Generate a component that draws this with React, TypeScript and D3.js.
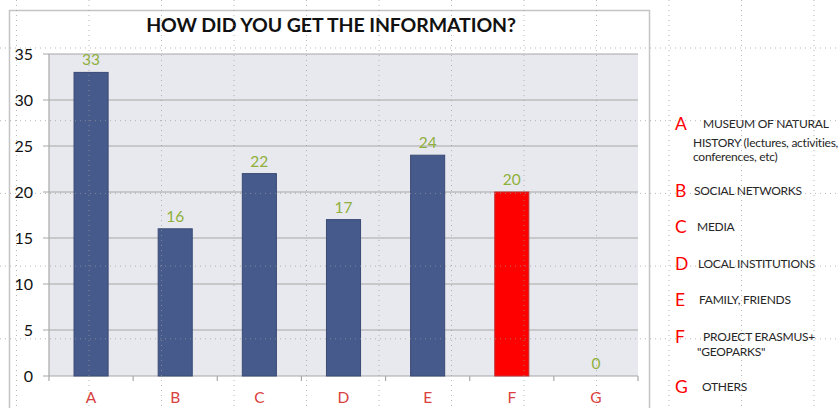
import React, { useEffect } from "react";
import * as d3 from "d3";

const categories = ["A", "B", "C", "D", "E", "F", "G"];
const values = [33, 16, 22, 17, 24, 20, 0];
const highlighted = ["F"];
const yTicks = [0, 5, 10, 15, 20, 25, 30, 35];
const title = "HOW DID YOU GET THE INFORMATION?";
const legendLetters = ["A", "B", "C", "D", "E", "F", "G"];
const legendLines = [
  ["MUSEUM OF NATURAL", "HISTORY (lectures,  activities,", "conferences, etc)"],
  ["SOCIAL NETWORKS"],
  ["MEDIA"],
  ["LOCAL INSTITUTIONS"],
  ["FAMILY, FRIENDS"],
  ["PROJECT ERASMUS+", "\"GEOPARKS\""],
  ["OTHERS"],
];
const legendY = [124, 191, 227, 264, 300, 337, 387];
const legendFirstX = [703, 694, 697, 698, 699, 703, 702];
const legendNextX = [693, 697];

const W = 838;
const H = 408;
const FONT = "Lato, 'Open Sans', sans-serif";

export default function App() {
  useEffect(() => {
    document.body.style.margin = "0";
  }, []);

  const plot = { left: 49, right: 638, top: 54, bottom: 376 };
  const x = d3.scaleBand<string>().domain(categories).range([plot.left, plot.right]).paddingInner(0).paddingOuter(0);
  const y = d3.scaleLinear().domain([0, 35]).range([plot.bottom, plot.top]);
  const bw = x.bandwidth() * 0.405;

  const gridXs = d3.range(0, 12).map((i) => 16.5 + i * 72.5);
  const gridYs = d3.range(0, 6).map((i) => 48 + i * 72.7);

  return (
    <svg width={W} height={H} style={{ display: "block", position: "absolute", left: 0, top: 0, background: "#fff" }} fontFamily={FONT}>
      {/* chart frame */}
      <rect x={9.5} y={10.5} width={640} height={420} fill="#fff" stroke="#c4c4c4" strokeWidth={1.5} />
      <text x={331} y={32} textAnchor="middle" fontSize={19.5} fontWeight={700} fill="#111" letterSpacing={-0.1}>
        {title}
      </text>
      {/* plot area */}
      <rect x={plot.left} y={plot.top} width={plot.right - plot.left} height={plot.bottom - plot.top} fill="#e8e9ee" />
      {yTicks.map((t) => (
        <g key={t}>
          <line x1={plot.left - 6} x2={plot.right} y1={y(t)} y2={y(t)} stroke="#a8a8a8" strokeWidth={1.2} />
          <text x={33} y={y(t)} dy="0.36em" textAnchor="end" fontSize={16} fill="#111">
            {t}
          </text>
        </g>
      ))}
      <line x1={plot.left} x2={plot.left} y1={plot.top} y2={plot.bottom} stroke="#a8a8a8" strokeWidth={1.2} />
      {categories.map((c) => (
        <line key={"tk" + c} x1={x(c)!} x2={x(c)!} y1={plot.bottom} y2={plot.bottom + 5} stroke="#a8a8a8" strokeWidth={1.2} />
      ))}
      <line x1={plot.right} x2={plot.right} y1={plot.bottom} y2={plot.bottom + 5} stroke="#a8a8a8" strokeWidth={1.2} />
      {/* bars */}
      {categories.map((c, i) => {
        const cx = x(c)! + x.bandwidth() / 2;
        const v = values[i];
        const hi = highlighted.includes(c);
        return (
          <g key={c}>
            {v > 0 && (
              <rect
                x={cx - bw / 2}
                y={y(v)}
                width={bw}
                height={y(0) - y(v)}
                fill={hi ? "#ff0000" : "#465a8b"}
                stroke={hi ? "#c23030" : "#3a4a75"}
                strokeWidth={1}
              />
            )}
            <text x={cx} y={y(v) - 7} textAnchor="middle" fontSize={15.5} fill="#8fb03c">
              {v}
            </text>
            <text x={cx} y={397} dy="0.36em" textAnchor="middle" fontSize={15.5} fill="#d9403e">
              {c}
            </text>
          </g>
        );
      })}
      {/* legend */}
      {legendLetters.map((l, i) => (
        <g key={"lg" + l}>
          <text x={675} y={legendY[i]} dy="0.36em" fontSize={17.5} fill="#ff0000">
            {l}
          </text>
          {legendLines[i].map((line, j) => (
            <text
              key={j}
              x={j === 0 ? legendFirstX[i] : legendNextX[i === 0 ? 0 : 1]}
              y={legendY[i] + (i === 0 ? [0, 19, 33][j] : j * 15)}
              dy="0.36em"
              fontSize={12}
              fill="#262626"
              letterSpacing={-0.25}
            >
              {line}
            </text>
          ))}
        </g>
      ))}
      {/* dotted guide grid overlay */}
      {gridXs.map((gx, i) => (
        <line key={"gx" + i} x1={gx} x2={gx} y1={0} y2={H} stroke="#9a9a9a" strokeWidth={1} strokeDasharray="1 4" opacity={0.7} />
      ))}
      {gridYs.map((gy, i) => (
        <line key={"gy" + i} x1={0} x2={W} y1={gy} y2={gy} stroke="#9a9a9a" strokeWidth={1} strokeDasharray="1 4" opacity={0.7} />
      ))}
    </svg>
  );
}
